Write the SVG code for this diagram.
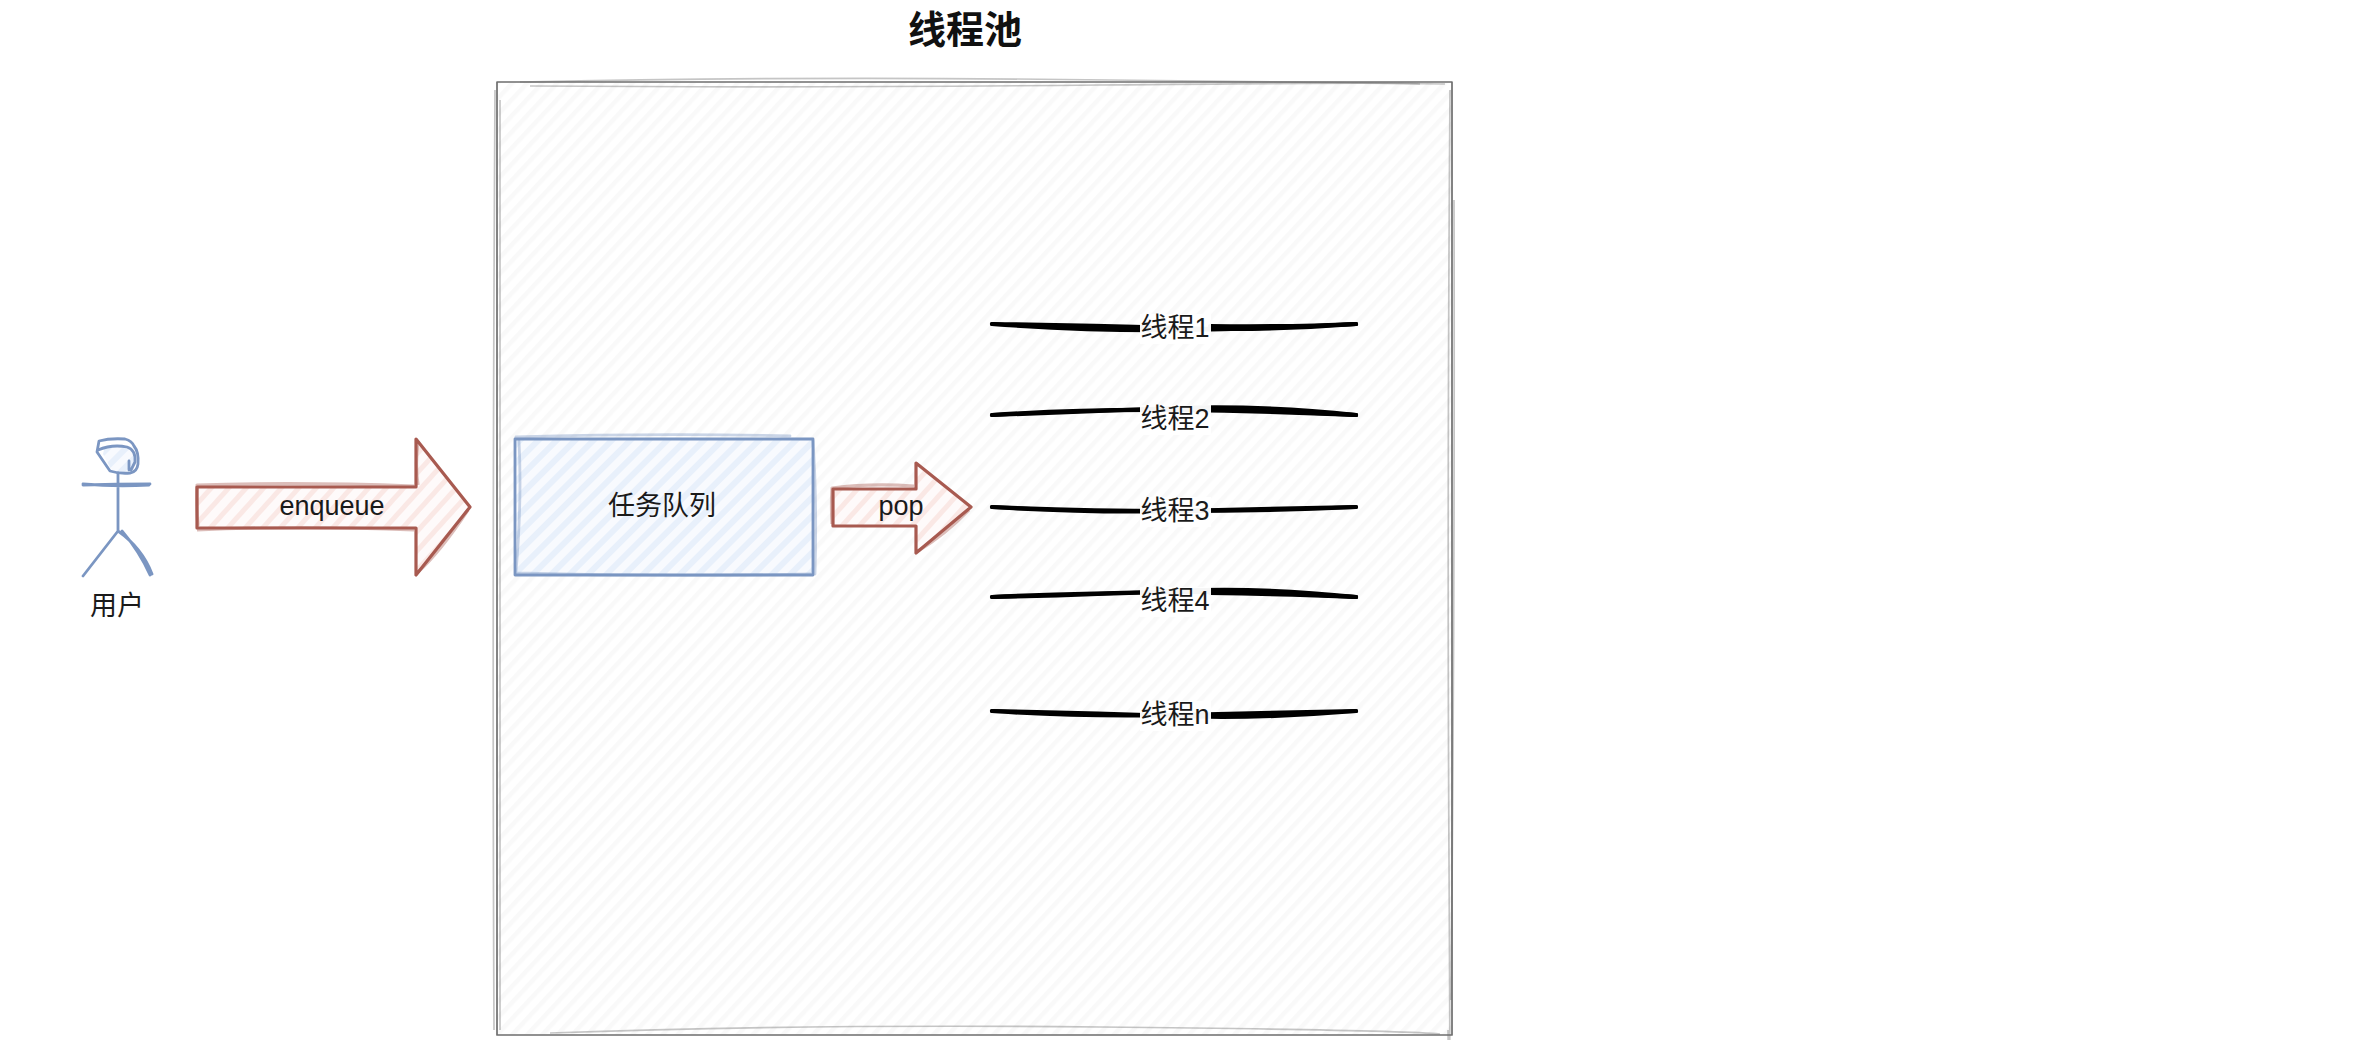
<svg xmlns="http://www.w3.org/2000/svg" width="2353" height="1040" viewBox="0 0 2353 1040">
<style>
text{font-family:"Liberation Sans","Noto Sans CJK SC",sans-serif;font-size:27px;fill:#1a1a1a;text-anchor:middle;dominant-baseline:central}
.title{font-size:38px;font-weight:bold;fill:#111}
.gray{stroke:#6e6e6e;stroke-width:1.7;fill:none;stroke-linejoin:round}
.blue{stroke:#7b96c2;stroke-width:2.8;fill:none;stroke-linejoin:round;stroke-linecap:round}
.red{stroke:#a85a50;stroke-width:3.2;fill:none;stroke-linejoin:round}
.faint{opacity:.4}
.thread{stroke:#000;stroke-width:4.2;fill:none;stroke-linecap:round}
.lbl{fill:#fff;fill-opacity:.96}
</style>
<defs>
<pattern id="hGray" width="11" height="11" patternUnits="userSpaceOnUse" patternTransform="rotate(-47)">
<rect width="11" height="11" fill="#fff"/><rect width="11" height="4.5" fill="#f9f9f9"/>
</pattern>
<pattern id="hBlue" width="13" height="13" patternUnits="userSpaceOnUse" patternTransform="rotate(-45)">
<rect width="13" height="13" fill="#f8fafe"/><rect width="13" height="6" fill="#e8f0fb"/>
</pattern>
<pattern id="hRed" width="13" height="13" patternUnits="userSpaceOnUse" patternTransform="rotate(-48)">
<rect width="13" height="13" fill="#fefafa"/><rect width="13" height="5" fill="#fae8e5"/>
</pattern>
</defs>
<rect width="2353" height="1040" fill="#fff"/>

<g id="title"><text class="title" x="965" y="30">线程池</text></g>

<g id="pool">
<rect x="497" y="82" width="955" height="953" fill="url(#hGray)"/>
<path class="gray" d="M497 82H1452V1035H497Z"/>
<path class="gray faint" stroke-width="2.5" d="M520 82Q800 76 1110 80T1445 84"/>
<path class="gray faint" stroke-width="2.5" d="M530 86Q800 88 1100 85T1420 84"/>
<path class="gray faint" d="M1450 90Q1447 500 1449 860T1448 1030"/>
<path class="gray faint" d="M1454 200Q1455 600 1451 1000"/>
<path class="gray faint" stroke-width="2.5" d="M550 1033Q800 1024 1100 1027T1440 1034"/>
<path class="gray faint" d="M495 90Q492 600 494 1030"/>
<path class="gray faint" d="M500 100Q499 600 500 1030"/>
</g>

<g id="user">
<path d="M103 454L112 471Q124 474 134 470L136 447L105 446Z" fill="url(#hBlue)"/>
<path class="blue" d="M97 452L99 441Q110 438 125 439Q132 441 134 446Q139 452 138 464Q137 472 130 473Q120 474 110 471L97 452"/>
<path class="blue" d="M98 450Q112 444 127 447Q136 450 135 462L131 470M129 461V470"/>
<path class="blue" d="M118 473V531M83 485Q116 484 150 484M83 484Q116 487 149 485M118 531L83 576M118 531Q142 548 152 574M122 531Q140 552 150 575"/>
</g>
<g id="user-label"><text x="117" y="606">用户</text></g>

<g id="enqueue-arrow">
<path d="M197 487H416V439L470 507L416 575V528H197Z" fill="url(#hRed)"/>
<path class="red" d="M197 487H416V439L470 507L416 575V528H197Z"/>
<path class="red faint" d="M198 526Q196 505 197 485Q300 482 414 486M418 572Q440 552 468 510M197 530Q300 525 414 530M418 441Q415 465 418 485"/>
<text x="332" y="506">enqueue</text>
</g>

<g id="queue">
<rect x="515" y="439" width="298" height="136" fill="url(#hBlue)"/>
<path class="blue" d="M515 439H813V575H515Z"/>
<path class="blue faint" d="M516 437Q660 433 790 436M813 441Q817 500 815 574M519 441Q522 500 516 572M516 573Q660 577 810 574"/>
<text x="662" y="506">任务队列</text>
</g>

<g id="pop-arrow">
<path d="M833 489H916V463L971 507L916 553V526H833Z" fill="url(#hRed)"/>
<path class="red" d="M833 489H916V463L971 507L916 553V526H833Z"/>
<path class="red faint" d="M832 524Q831 505 832 488Q870 483 914 486M918 551Q945 535 969 510"/>
<text x="901" y="506">pop</text>
</g>

<g id="connectors">
<path class="thread" d="M992 324Q1080 325 1175 328T1356 324"/>
<path class="thread" d="M992 324Q1090 331 1175 330T1356 324"/>
<path class="thread" d="M1210 326Q1290 327 1356 324"/>
<path class="thread" d="M992 415Q1080 409 1175 410T1356 415"/>
<path class="thread" d="M992 415Q1090 411 1175 408T1356 415"/>
<path class="thread" d="M1210 409Q1290 411 1356 415"/>
<path class="thread" d="M992 507Q1080 511 1175 511T1356 507"/>
<path class="thread" d="M992 507Q1090 513 1175 511T1356 507"/>
<path class="thread" d="M992 597Q1080 593 1175 592T1356 597"/>
<path class="thread" d="M992 597Q1090 595 1175 591T1356 597"/>
<path class="thread" d="M1210 593Q1290 594 1356 597"/>
<path class="thread" d="M992 711Q1080 717 1175 715T1356 711"/>
<path class="thread" d="M992 711Q1090 713 1175 716T1356 711"/>
</g>

<g id="thread-1"><rect class="lbl" x="1140" y="314" width="71" height="30"/><text x="1175" y="328">线程1</text></g>
<g id="thread-2"><rect class="lbl" x="1140" y="405" width="71" height="30"/><text x="1175" y="419">线程2</text></g>
<g id="thread-3"><rect class="lbl" x="1140" y="497" width="71" height="30"/><text x="1175" y="511">线程3</text></g>
<g id="thread-4"><rect class="lbl" x="1140" y="587" width="71" height="30"/><text x="1175" y="601">线程4</text></g>
<g id="thread-n"><rect class="lbl" x="1140" y="701" width="71" height="30"/><text x="1175" y="715">线程n</text></g>
</svg>
